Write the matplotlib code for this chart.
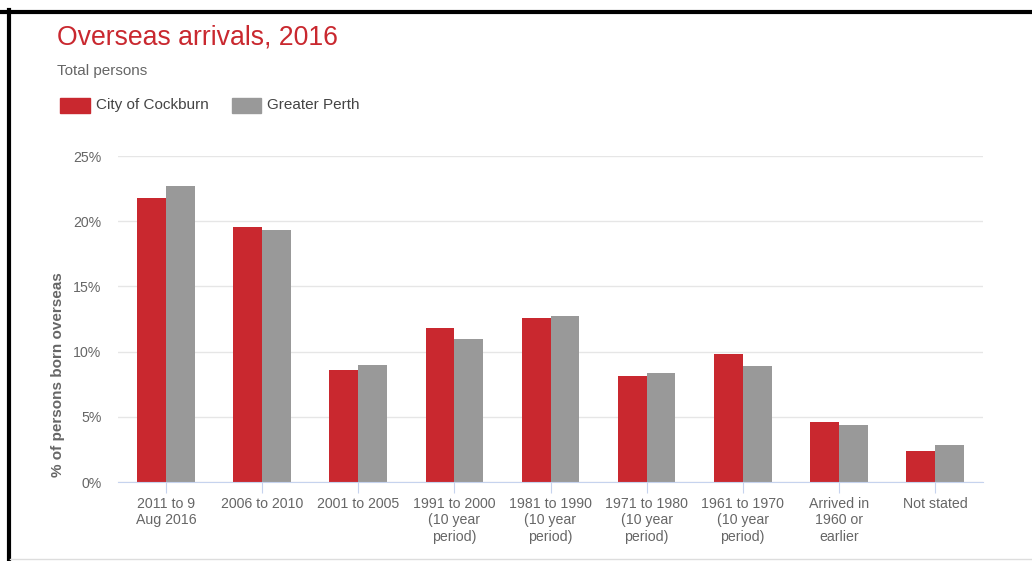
import matplotlib
matplotlib.use("Agg")
import matplotlib.pyplot as plt
import numpy as np
from matplotlib.patches import Rectangle
from matplotlib.lines import Line2D

# ---------------------------------------------------------------------------
# Data
# ---------------------------------------------------------------------------
categories = [
    "2011 to 9\nAug 2016",
    "2006 to 2010",
    "2001 to 2005",
    "1991 to 2000\n(10 year\nperiod)",
    "1981 to 1990\n(10 year\nperiod)",
    "1971 to 1980\n(10 year\nperiod)",
    "1961 to 1970\n(10 year\nperiod)",
    "Arrived in\n1960 or\nearlier",
    "Not stated",
]
cockburn = [21.8, 19.55, 8.6, 11.8, 12.6, 8.15, 9.8, 4.6, 2.35]
perth = [22.7, 19.35, 9.0, 11.0, 12.7, 8.35, 8.9, 4.4, 2.8]
yticks = [0, 5, 10, 15, 20, 25]
series_names = ["City of Cockburn", "Greater Perth"]

RED = "#c9282f"
GREY = "#999999"
TEXT = "#666666"
AXIS_BLUE = "#c6d3ee"

plt.rcParams["font.family"] = ["Liberation Sans", "DejaVu Sans"]

fig = plt.figure(figsize=(10.32, 5.61), dpi=100)
ax = fig.add_axes([118 / 1032, 1 - 482 / 561, (983 - 118) / 1032, (482 - 156) / 561])

x = np.arange(len(categories))
w = 0.30
ax.bar(x - w / 2, cockburn, width=w, color=RED, zorder=3)
ax.bar(x + w / 2, perth, width=w, color=GREY, zorder=3)

ax.set_xlim(-0.5, len(categories) - 0.5)
ax.set_ylim(0, 25)
ax.set_yticks(yticks)
ax.set_yticklabels([f"{v}%" for v in yticks], color=TEXT, fontsize=10.2)
ax.yaxis.grid(True, color="#e6e6e6", linewidth=1, zorder=0)
ax.tick_params(axis="y", length=0, pad=12)

ax.set_xticks(x)
ax.set_xticklabels(categories, color=TEXT, fontsize=10.2, linespacing=1.2)
ax.tick_params(axis="x", length=8, color=AXIS_BLUE, pad=3)

for side in ["top", "right", "left"]:
    ax.spines[side].set_visible(False)
ax.spines["bottom"].set_color(AXIS_BLUE)
ax.spines["bottom"].set_zorder(4)

fig.text(58 / 1032, 1 - 375 / 561, "% of persons born overseas", rotation=90,
         ha="center", va="center", fontsize=11, fontweight="bold", color=TEXT)

# title, subtitle, legend
fig.text(57 / 1032, 1 - 38 / 561, "Overseas arrivals, 2016", color=RED,
         fontsize=19.2, ha="left", va="center")
fig.text(57 / 1032, 1 - 71 / 561, "Total persons", color=TEXT,
         fontsize=11, ha="left", va="center")

legend_items = [(60, 90, 96, series_names[0], RED), (232, 261, 267, series_names[1], GREY)]
for x0, x1, tx, label, col in legend_items:
    fig.patches.append(Rectangle((x0 / 1032, 1 - 113 / 561), (x1 - x0) / 1032, 15 / 561,
                                 transform=fig.transFigure, color=col))
    fig.text(tx / 1032, 1 - 105.5 / 561, label, color="#444444", fontsize=11,
             ha="left", va="center")

# screenshot frame
fig.add_artist(Line2D([0, 1], [1 - 11.5 / 561] * 2, transform=fig.transFigure,
                      color="black", linewidth=3))
fig.add_artist(Line2D([8.5 / 1032] * 2, [0, 1 - 10 / 561], transform=fig.transFigure,
                      color="black", linewidth=3))
fig.add_artist(Line2D([10 / 1032, 1], [1 - 559 / 561] * 2, transform=fig.transFigure,
                      color="#dddddd", linewidth=1))

fig.savefig("out.png", dpi=100)
